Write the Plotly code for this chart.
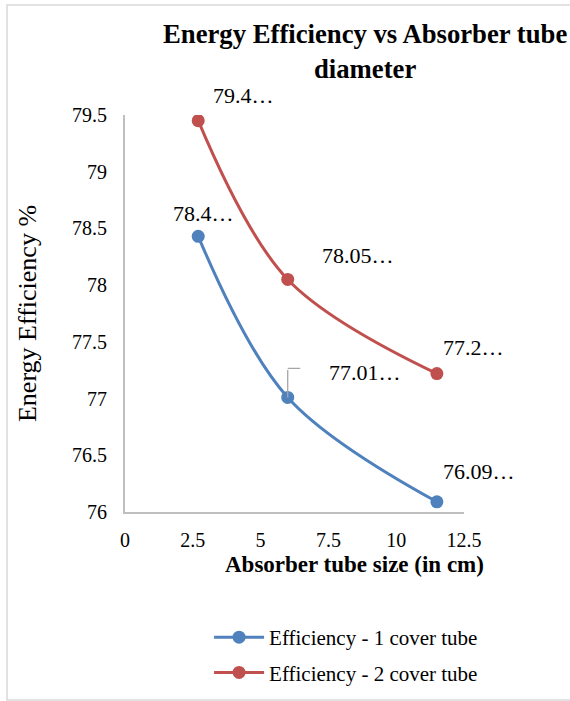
import plotly.graph_objects as go

# ---- data ----
tube_size = [2.7, 6, 11.5]
eff_1_cover = [78.43, 77.01, 76.09]
eff_2_cover = [79.45, 78.05, 77.22]
labels_1 = ["78.4…", "77.01…", "76.09…"]
labels_2 = ["79.4…", "78.05…", "77.2…"]
series_names = ["Efficiency - 1 cover tube", "Efficiency - 2 cover tube"]
x_ticks = [0, 2.5, 5, 7.5, 10, 12.5]
x_tick_text = ["0", "2.5", "5", "7.5", "10", "12.5"]
y_ticks = [76, 76.5, 77, 77.5, 78, 78.5, 79, 79.5]
y_tick_text = ["76", "76.5", "77", "77.5", "78", "78.5", "79", "79.5"]
title_text = "Energy Efficiency vs Absorber tube<br>diameter"
x_title = "Absorber tube size (in cm)"
y_title = "Energy Efficiency %"

# ---- style ----
FONT = "Liberation Serif"
BLUE = "#4f81bd"
RED = "#c0504d"
AXIS = "#bfbfbf"
# label offsets in pixels (xshift to left edge, yshift up)
off_1 = [(-27, 23), (39, 25), (4, 30)]
off_2 = [(13, 25), (32, 24), (4, 26)]

fig = go.Figure()
for i, (ys, col, name) in enumerate([(eff_1_cover, BLUE, series_names[0]),
                                     (eff_2_cover, RED, series_names[1])]):
    fig.add_trace(go.Scatter(
        x=tube_size, y=ys, name=name, mode="lines+markers",
        line=dict(color=col, width=3, shape="spline", smoothing=1.0),
        marker=dict(color=col, size=13),
        legendgroup=f"g{i}",
    ))

annotations = []
for xs, ys, labs, offs in [(tube_size, eff_1_cover, labels_1, off_1),
                           (tube_size, eff_2_cover, labels_2, off_2)]:
    for x, y, t, (dx, dy) in zip(xs, ys, labs, offs):
        annotations.append(dict(
            x=x, y=y, xref="x", yref="y", text=t, showarrow=False,
            xanchor="left", yanchor="middle", xshift=dx, yshift=dy,
            font=dict(family=FONT, size=22, color="#000000"),
        ))

# leader line for 77.01 label
annotations.append(dict(x=tube_size[1], y=eff_1_cover[1], xref="x", yref="y",
                        text="", showarrow=True, arrowhead=0, arrowwidth=1.3,
                        arrowcolor="#a6a6a6", ax=0, ay=-29, standoff=0))
annotations.append(dict(x=tube_size[1], y=eff_1_cover[1], xref="x", yref="y",
                        text="", showarrow=True, arrowhead=0, arrowwidth=1.3,
                        arrowcolor="#a6a6a6", ax=14, ay=0, yshift=29, standoff=0))

# chart title (right-shifted, as in the reference)
annotations.append(dict(x=0.708, y=(512 - 52) / 397, xref="paper", yref="paper",
                        text=f"<b>{title_text}</b>", showarrow=False,
                        xanchor="center", yanchor="middle",
                        font=dict(family=FONT, size=26.7, color="#000000")))

# x-axis title (offset to the right as in the reference)
annotations.append(dict(x=0.676, y=-0.1335, xref="paper", yref="paper",
                        text=f"<b>{x_title}</b>", showarrow=False,
                        xanchor="center", yanchor="middle",
                        font=dict(family=FONT, size=23, color="#000000")))

fig.update_layout(
    width=570, height=701,
    margin=dict(l=125, r=106, t=115, b=189),
    paper_bgcolor="white", plot_bgcolor="white",
    font=dict(family=FONT, color="#000000"),
    xaxis=dict(range=[0, 12.5], tickvals=x_ticks, ticktext=x_tick_text,
               showgrid=False, zeroline=False, showline=True, linecolor=AXIS,
               linewidth=2, ticks="", ticklabelstandoff=9,
               tickfont=dict(family=FONT, size=20, color="#000000")),
    yaxis=dict(range=[76, 79.5], tickvals=y_ticks, ticktext=y_tick_text,
               showgrid=False, zeroline=False, showline=True, linecolor=AXIS,
               linewidth=2, ticks="", ticklabelstandoff=12,
               title=dict(text=y_title, standoff=28,
                          font=dict(family=FONT, size=26, color="#000000")),
               tickfont=dict(family=FONT, size=20, color="#000000")),
    legend=dict(x=0.248, y=1 - 617 / 701, xanchor="left", yanchor="top",
                yref="container", traceorder="grouped",
                tracegroupgap=5, itemwidth=50,
                font=dict(family=FONT, size=21, color="#000000"),
                bgcolor="rgba(0,0,0,0)"),
    annotations=annotations,
    shapes=[dict(type="rect", xref="paper", yref="paper",
                 x0=-0.348, x1=1.33, y0=-0.4736, y1=1.277,
                 line=dict(color="#d9d9d9", width=1.5), fillcolor="rgba(0,0,0,0)",
                 layer="below")],
)

fig.write_html("out.html")
